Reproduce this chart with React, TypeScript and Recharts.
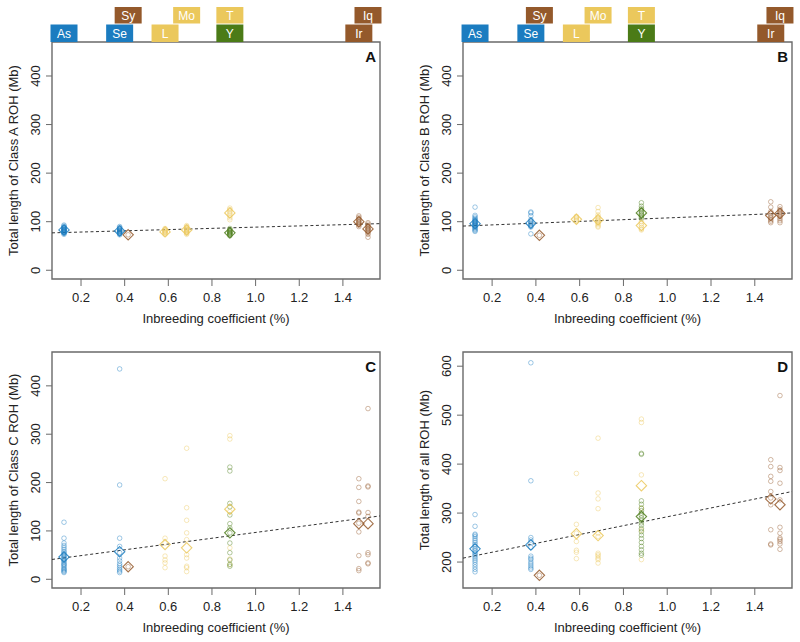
import React from 'react';
import {
  ScatterChart,
  Scatter,
  XAxis,
  YAxis,
  ReferenceLine,
  ReferenceArea,
} from 'recharts';

// ---------- data ----------
const groupNames = ['As', 'Se', 'Sy', 'L', 'Mo', 'T', 'Y', 'Ir', 'Iq'];
const groupF = [0.122, 0.377, 0.416, 0.585, 0.684, 0.882, 0.882, 1.473, 1.515];
const groupColorKey = ['blue', 'blue', 'brown', 'yellow', 'yellow', 'yellow', 'green', 'brown', 'brown'];
const labelRow = [2, 2, 1, 2, 1, 1, 2, 2, 1];

const xTicks = [0.2, 0.4, 0.6, 0.8, 1.0, 1.2, 1.4];
const xDomain = [0.067, 1.57];
const yTicksABC = [0, 100, 200, 300, 400];
const yDomainABC = [-18, 470];
const yTicksD = [200, 300, 400, 500, 600];
const yDomainD = [147, 629];
const fitX = [0.067, 1.57];

// Class A
const classAValues = [
  [93, 91, 89, 88, 87, 86, 85, 84, 84, 83, 82, 82, 81, 80, 80, 79, 78, 77, 76, 74],
  [90, 88, 86, 85, 84, 83, 82, 81, 80, 80, 79, 78, 77, 76, 75, 73],
  [73],
  [86, 84, 82, 81, 80, 79, 78, 77, 76, 74],
  [92, 90, 88, 86, 85, 84, 83, 82, 81, 80, 79, 78, 76, 74],
  [128, 125, 122, 119, 116, 113, 108, 104],
  [86, 84, 82, 80, 79, 78, 77, 76, 75, 74, 73, 71],
  [112, 109, 106, 104, 102, 100, 99, 97, 95, 93, 90],
  [98, 95, 92, 90, 88, 86, 85, 84, 82, 80, 77, 74, 68],
];
const classAMeans = [83, 81, 73, 79, 83, 118, 77, 100, 85];
const classAFit = [77, 96];

// Class B
const classBValues = [
  [130, 113, 110, 107, 105, 103, 101, 100, 99, 98, 97, 96, 95, 94, 93, 92, 91, 90, 88, 86, 84, 82, 80],
  [120, 118, 112, 104, 101, 99, 97, 95, 93, 91, 89, 75],
  [72],
  [111, 109, 107, 105, 103, 101],
  [129, 121, 114, 110, 107, 105, 103, 101, 99, 97, 94, 91, 89],
  [100, 96, 92, 88, 85, 83],
  [139, 132, 127, 124, 121, 118, 116, 113, 110, 107],
  [141, 130, 121, 117, 113, 110, 107, 104, 101, 98],
  [131, 126, 123, 120, 118, 116, 113, 110, 106, 102, 98],
];
const classBMeans = [96, 97, 72, 105, 104, 92, 118, 113, 117];
const classBFit = [91, 118];

// Class C
const classCValues = [
  [118, 85, 75, 70, 66, 62, 58, 55, 52, 50, 48, 46, 44, 42, 40, 38, 35, 32, 30, 28, 25, 22, 20, 18, 16, 14],
  [435, 195, 85, 68, 55, 44, 38, 32, 28, 24, 20, 17, 14],
  [26],
  [208, 85, 75, 48, 40, 34, 24],
  [271, 148, 122, 96, 82, 51, 44, 27, 24, 16],
  [297, 290, 140, 65, 42, 30],
  [232, 224, 157, 150, 133, 115, 106, 96, 75, 55, 40, 31, 27],
  [208, 190, 161, 139, 137, 116, 98, 49, 22, 18],
  [353, 193, 191, 138, 130, 55, 51, 34, 32],
];
const classCMeans = [46, 57, 26, 72, 65, 145, 96, 115, 115];
const classCFit = [41, 131];

// All ROH
const allValues = [
  [297, 273, 257, 255, 252, 248, 244, 240, 236, 232, 228, 225, 222, 218, 215, 212, 208, 204, 200, 195, 190, 185, 180],
  [607, 366, 250, 245, 240, 230, 212, 208, 205, 200, 196, 192, 188, 185],
  [173],
  [381, 277, 259, 242, 224, 220, 207],
  [453, 341, 329, 309, 259, 252, 218, 215, 212, 208, 205, 198],
  [492, 485, 378, 310, 265, 205],
  [422, 420, 325, 318, 310, 305, 300, 295, 290, 285, 280, 275, 268, 262, 255, 248, 240, 232, 225, 218, 214],
  [409, 395, 375, 365, 344, 331, 317, 266, 237, 235],
  [540, 393, 387, 361, 327, 271, 259, 249, 246, 242, 237, 226],
];
const allMeans = [227, 235, 173, 258, 254, 356, 293, 329, 317];
const allFit = [208, 344];

// ---------- styles ----------
const FONT = '"Liberation Sans", Arial, Helvetica, sans-serif';
const COLORS: Record<string, string> = {
  blue: '#1B7CC0',
  brown: '#94592B',
  yellow: '#EBC85C',
  green: '#4B7B17',
};
const AXIS_GRAY = '#6a6a6a';

const circleShape = (color: string) => (p: any) => (
  <circle cx={p.cx} cy={p.cy} r={2.3} fill="none" stroke={color} strokeOpacity={0.42} strokeWidth={1} />
);

const diamondShape = (color: string) => (p: any) => {
  const { cx, cy } = p;
  const s = 5.2;
  return (
    <path
      d={`M${cx},${cy - s}L${cx + s},${cy}L${cx},${cy + s}L${cx - s},${cy}Z`}
      fill="none"
      stroke={color}
      strokeOpacity={0.85}
      strokeWidth={1.1}
    />
  );
};

const labelShape = (p: any) => {
  const { cx, cy, payload } = p;
  const top = payload.row === 1 ? cy - 35 : cy - 17.5;
  const h = payload.row === 1 ? 16.5 : 17.5;
  return (
    <g>
      <rect x={cx - 13.5} y={top} width={27} height={h} fill={payload.color} />
      <text
        x={cx}
        y={top + h / 2 + 4.3}
        fill="#ffffff"
        textAnchor="middle"
        fontSize={12}
        fontFamily={FONT}
      >
        {payload.name}
      </text>
    </g>
  );
};

const XTick = (p: any) => (
  <text x={p.x} y={p.y + 16} textAnchor="middle" fontSize={13} fontFamily={FONT} fill="#222">
    {Number(p.payload.value).toFixed(1)}
  </text>
);

const YTick = (p: any) => {
  const x = p.x - 6;
  const y = p.y;
  return (
    <text
      x={x}
      y={y}
      transform={`rotate(-90, ${x}, ${y})`}
      textAnchor="middle"
      fontSize={13}
      fontFamily={FONT}
      fill="#222"
    >
      {p.payload.value}
    </text>
  );
};

const makeXLabel = () => (props: any) => {
  const vb = props.viewBox || {};
  return (
    <text
      x={vb.x + vb.width / 2}
      y={vb.y + 44}
      textAnchor="middle"
      fontSize={13}
      fontFamily={FONT}
      fill="#222"
    >
      Inbreeding coefficient (%)
    </text>
  );
};

const makeYLabel = (title: string) => (props: any) => {
  const vb = props.viewBox || {};
  const x = vb.x + vb.width - 34;
  const y = vb.y + vb.height / 2;
  return (
    <text
      x={x}
      y={y}
      transform={`rotate(-90, ${x}, ${y})`}
      textAnchor="middle"
      fontSize={13}
      fontFamily={FONT}
      fill="#222"
    >
      {title}
    </text>
  );
};

type PanelProps = {
  letter: string;
  values: number[][];
  means: number[];
  fit: number[];
  yTitle: string;
  yDomain: number[];
  yTicks: number[];
  left: number;
  top: number;
  height: number;
  yAxisWidth: number;
  marginRight: number;
  xAxisHeight: number;
  showLabels: boolean;
};

function Panel(props: PanelProps) {
  const {
    letter, values, means, fit, yTitle, yDomain, yTicks, left, top, height,
    yAxisWidth, marginRight, xAxisHeight, showLabels,
  } = props;
  const width = 400;
  const labelData = groupNames.map((name, i) => ({
    x: groupF[i],
    y: yDomain[1],
    name,
    row: labelRow[i],
    color: COLORS[groupColorKey[i]],
  }));
  const plotRight = width - marginRight;
  return (
    <div style={{ position: 'absolute', left, top, width, height }}>
      <ScatterChart
        width={width}
        height={height}
        margin={{ top: 42, right: marginRight, bottom: 0, left: 0 }}
      >
        <XAxis
          type="number"
          dataKey="x"
          domain={xDomain}
          ticks={xTicks}
          interval={0}
          axisLine={false}
          tickLine={{ stroke: AXIS_GRAY }}
          tickSize={7}
          tickMargin={0}
          height={xAxisHeight}
          tick={XTick}
          label={makeXLabel()}
        />
        <YAxis
          type="number"
          dataKey="y"
          domain={yDomain}
          ticks={yTicks}
          interval={0}
          axisLine={false}
          tickLine={{ stroke: AXIS_GRAY }}
          tickSize={6}
          tickMargin={0}
          width={yAxisWidth}
          tick={YTick}
          label={makeYLabel(yTitle)}
        />
        <ReferenceArea
          x1={xDomain[0]}
          x2={xDomain[1]}
          y1={yDomain[0]}
          y2={yDomain[1]}
          fill="none"
          fillOpacity={0}
          stroke={AXIS_GRAY}
          strokeWidth={1.4}
          ifOverflow="visible"
        />
        <ReferenceLine
          segment={[
            { x: fitX[0], y: fit[0] },
            { x: fitX[1], y: fit[1] },
          ]}
          stroke="#333"
          strokeWidth={1}
          strokeDasharray="3 2.5"
          ifOverflow="visible"
        />
        {values.map((vals, i) => (
          <Scatter
            key={`pts-${i}`}
            data={vals.map((v) => ({ x: groupF[i], y: v }))}
            shape={circleShape(COLORS[groupColorKey[i]])}
            isAnimationActive={false}
          />
        ))}
        {means.map((m, i) => (
          <Scatter
            key={`mean-${i}`}
            data={[{ x: groupF[i], y: m }]}
            shape={diamondShape(COLORS[groupColorKey[i]])}
            isAnimationActive={false}
          />
        ))}
        {showLabels && (
          <Scatter data={labelData} shape={labelShape} isAnimationActive={false} />
        )}
      </ScatterChart>
      <div
        style={{
          position: 'absolute',
          left: plotRight - 40,
          width: 36,
          top: 48,
          textAlign: 'right',
          fontFamily: FONT,
          fontWeight: 'bold',
          fontSize: 15,
          lineHeight: '17px',
          color: '#111',
        }}
      >
        {letter}
      </div>
    </div>
  );
}

export default function App() {
  return (
    <div
      style={{
        position: 'absolute',
        left: 0,
        top: 0,
        width: 800,
        height: 642,
        background: '#ffffff',
        overflow: 'hidden',
      }}
    >
      <Panel
        letter="A"
        values={classAValues}
        means={classAMeans}
        fit={classAFit}
        yTitle="Total length of Class A ROH (Mb)"
        yDomain={yDomainABC}
        yTicks={yTicksABC}
        left={0}
        top={0}
        height={330}
        yAxisWidth={52}
        marginRight={20}
        xAxisHeight={51}
        showLabels={true}
      />
      <Panel
        letter="B"
        values={classBValues}
        means={classBMeans}
        fit={classBFit}
        yTitle="Total length of Class B ROH (Mb)"
        yDomain={yDomainABC}
        yTicks={yTicksABC}
        left={400}
        top={0}
        height={330}
        yAxisWidth={63}
        marginRight={8}
        xAxisHeight={51}
        showLabels={true}
      />
      <Panel
        letter="C"
        values={classCValues}
        means={classCMeans}
        fit={classCFit}
        yTitle="Total length of Class C ROH (Mb)"
        yDomain={yDomainABC}
        yTicks={yTicksABC}
        left={0}
        top={310}
        height={332}
        yAxisWidth={52}
        marginRight={20}
        xAxisHeight={54}
        showLabels={false}
      />
      <Panel
        letter="D"
        values={allValues}
        means={allMeans}
        fit={allFit}
        yTitle="Total length of all ROH (Mb)"
        yDomain={yDomainD}
        yTicks={yTicksD}
        left={400}
        top={310}
        height={332}
        yAxisWidth={63}
        marginRight={8}
        xAxisHeight={54}
        showLabels={false}
      />
    </div>
  );
}
